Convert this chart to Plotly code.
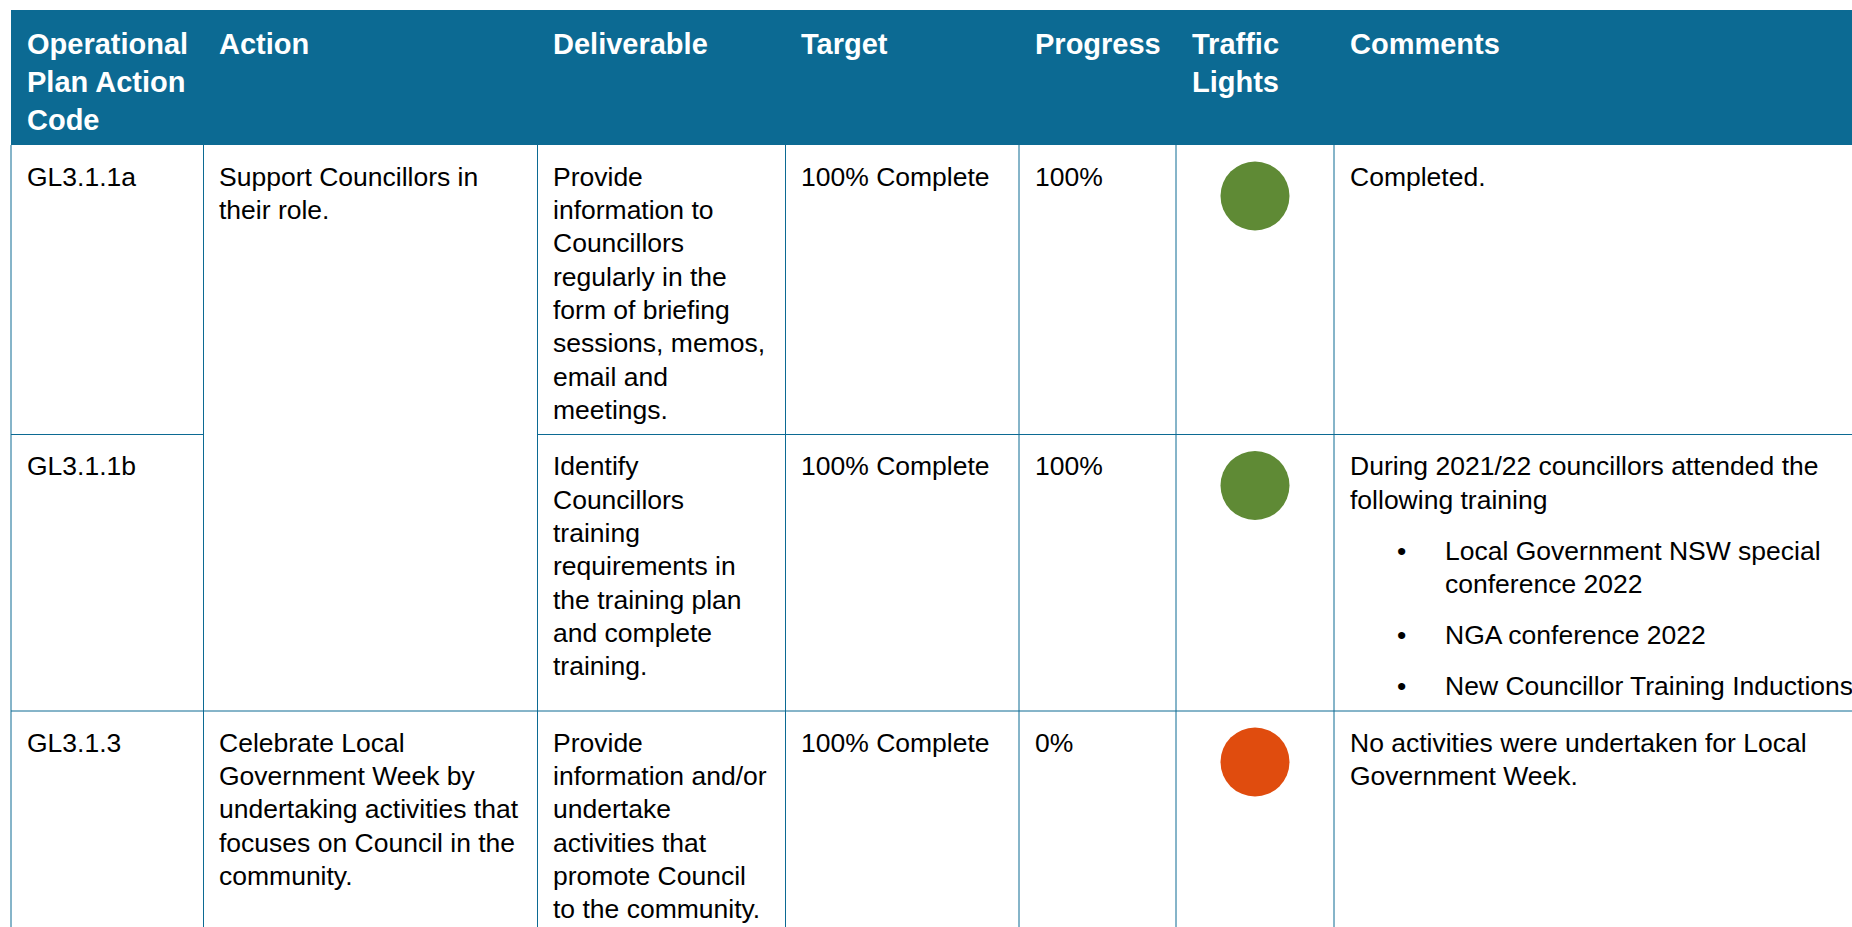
import plotly.graph_objects as go

# ---------------- data ----------------
header_lines = [["Operational", "Plan Action", "Code"], ["Action"], ["Deliverable"],
                ["Target"], ["Progress"], ["Traffic", "Lights"], ["Comments"]]
codes = ["GL3.1.1a", "GL3.1.1b", "GL3.1.3"]
actions = [["Support Councillors in", "their role."],
           [],
           ["Celebrate Local", "Government Week by", "undertaking activities that",
            "focuses on Council in the", "community."]]
action_span = [2, 0, 1]
deliverables = [["Provide", "information to", "Councillors", "regularly in the", "form of briefing",
                 "sessions, memos,", "email and", "meetings."],
                ["Identify", "Councillors", "training", "requirements in", "the training plan",
                 "and complete", "training."],
                ["Provide", "information and/or", "undertake", "activities that",
                 "promote Council", "to the community."]]
targets = ["100% Complete", "100% Complete", "100% Complete"]
progress = [100, 100, 0]
light_status = ["green", "green", "red"]
comments = [
    [("p", ["Completed."])],
    [("p", ["During 2021/22 councillors attended the", "following training"]),
     ("b", ["Local Government NSW special", "conference 2022"]),
     ("b", ["NGA conference 2022"]),
     ("b", ["New Councillor Training Inductions"])],
    [("p", ["No activities were undertaken for Local", "Government Week."])],
]

# ---------------- layout constants ----------------
W, H = 1852, 927
BLUE = "#0C6A93"
LIGHT_COLORS = {"green": "#5F8A35", "red": "#E04C0E"}
col_edges = [11, 203.5, 537.5, 785.5, 1019, 1176, 1334, 1960]
head_top, head_bot = 10, 145
row_edges = [145, 434.5, 711, 1100]
PAD = 14.5
FONT = "Liberation Sans, Arial, sans-serif"
BODY_F, BODY_LH = 26.5, 33.3
HEAD_F, HEAD_LH = 29, 38
FIRST_BASE = 41
PARA_GAP = 17.7
BULLET_X, BULLET_TEXT_X = 1401.5, 1444

fig = go.Figure()
shapes = []
ann = []


def text_line(x, baseline, s, size, color="#000000", bold=False, xanchor="left"):
    ctr = baseline - 0.3465 * size
    ann.append(dict(x=x, y=ctr, xref="x", yref="y", text=("<b>%s</b>" % s) if bold else s,
                    showarrow=False, xanchor=xanchor, yanchor="middle",
                    font=dict(family=FONT, size=size, color=color), borderpad=0))


# header
shapes.append(dict(type="rect", x0=col_edges[0], x1=col_edges[-1], y0=head_top, y1=head_bot,
                   fillcolor=BLUE, line=dict(width=0), layer="below"))
for c, lines in enumerate(header_lines):
    for i, s in enumerate(lines):
        text_line(col_edges[c] + PAD, head_top + 44 + i * HEAD_LH, s, HEAD_F, "#FFFFFF", True)

# vertical grid lines
for c, x in enumerate(col_edges[:-1]):
    shapes.append(dict(type="line", x0=x, x1=x, y0=head_bot, y1=row_edges[-1],
                       line=dict(color=BLUE, width=1)))
# horizontal row lines
for r in range(1, len(row_edges) - 1):
    y = row_edges[r]
    for c in range(len(col_edges) - 1):
        if c == 1 and action_span[r] == 0:
            continue
        shapes.append(dict(type="line", x0=col_edges[c], x1=col_edges[c + 1], y0=y, y1=y,
                           line=dict(color=BLUE, width=1)))

# body cells
for r in range(len(codes)):
    top = row_edges[r]
    b0 = top + FIRST_BASE
    text_line(col_edges[0] + PAD, b0, codes[r], BODY_F)
    for i, s in enumerate(actions[r]):
        text_line(col_edges[1] + PAD, b0 + i * BODY_LH, s, BODY_F)
    for i, s in enumerate(deliverables[r]):
        text_line(col_edges[2] + PAD, b0 + i * BODY_LH, s, BODY_F)
    text_line(col_edges[3] + PAD, b0, targets[r], BODY_F)
    text_line(col_edges[4] + PAD, b0, "%d%%" % progress[r], BODY_F)
    base = b0
    for kind, lines in comments[r]:
        for i, s in enumerate(lines):
            if kind == "b":
                if i == 0:
                    text_line(BULLET_X, base, "•", BODY_F, xanchor="center")
                text_line(BULLET_TEXT_X, base, s, BODY_F)
            else:
                text_line(col_edges[6] + PAD, base, s, BODY_F)
            base += BODY_LH
        base += PARA_GAP

# traffic lights
fig.add_trace(go.Scatter(
    x=[(col_edges[5] + col_edges[6]) / 2] * len(codes),
    y=[row_edges[r] + 51 for r in range(len(codes))],
    mode="markers",
    marker=dict(size=69, color=[LIGHT_COLORS[s] for s in light_status], line=dict(width=0)),
    hoverinfo="skip", showlegend=False))

fig.update_layout(
    width=W, height=H, margin=dict(l=0, r=0, t=0, b=0),
    paper_bgcolor="white", plot_bgcolor="white",
    xaxis=dict(range=[0, W], visible=False, fixedrange=True),
    yaxis=dict(range=[H, 0], visible=False, fixedrange=True),
    shapes=shapes, annotations=ann, showlegend=False,
)
fig.write_html("out.html", config={"displayModeBar": False},
               post_script="document.body.style.margin='0';document.body.style.overflow='hidden';")
